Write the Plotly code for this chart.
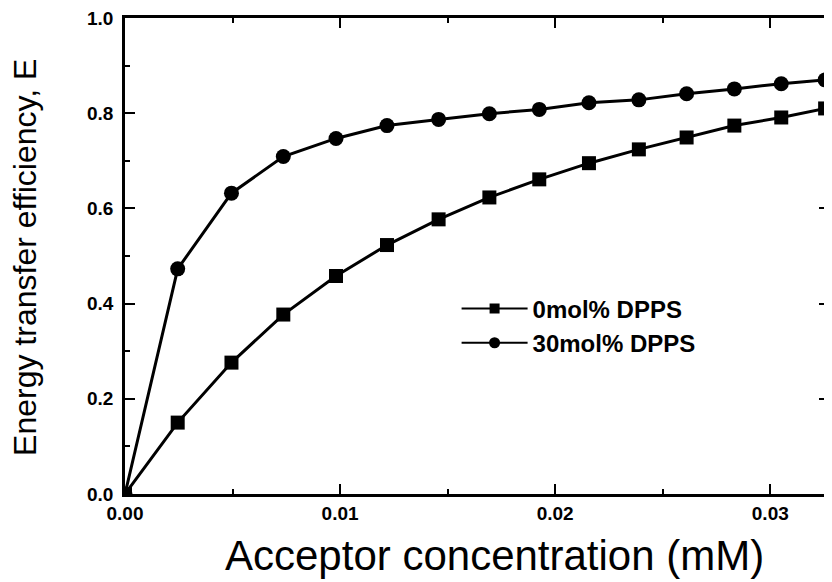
import plotly.graph_objects as go

# Data
conc_mM = [0, 0.00245, 0.00495, 0.00736, 0.00981, 0.01218, 0.01458, 0.01694,
           0.01926, 0.02157, 0.02389, 0.02611, 0.02833, 0.03051, 0.03255]
E_0mol = [0, 0.150, 0.276, 0.377, 0.458, 0.523, 0.577, 0.623,
          0.661, 0.695, 0.724, 0.749, 0.774, 0.791, 0.810]
E_30mol = [0, 0.473, 0.632, 0.709, 0.747, 0.774, 0.787, 0.799,
           0.808, 0.822, 0.828, 0.841, 0.851, 0.862, 0.870]
series_names = ["0mol% DPPS", "30mol% DPPS"]
x_ticks = [0.0, 0.01, 0.02, 0.03]
x_ticklabels = ["0.00", "0.01", "0.02", "0.03"]
y_ticks = [0.0, 0.2, 0.4, 0.6, 0.8, 1.0]
y_ticklabels = ["0.0", "0.2", "0.4", "0.6", "0.8", "1.0"]
x_title = "Acceptor concentration (mM)"
y_title = "Energy transfer efficiency, E"

FONT = "Liberation Sans, Arial, Helvetica, sans-serif"

fig = go.Figure()
fig.add_trace(go.Scatter(x=conc_mM, y=E_0mol, mode="lines+markers",
                         line=dict(color="black", width=3),
                         marker=dict(symbol="square", size=14, color="black"),
                         showlegend=False))
fig.add_trace(go.Scatter(x=conc_mM, y=E_30mol, mode="lines+markers",
                         line=dict(color="black", width=3),
                         marker=dict(symbol="circle", size=15, color="black"),
                         showlegend=False))
# legend entries (smaller symbols as in the reference)
fig.add_trace(go.Scatter(x=[None], y=[None], mode="lines+markers", name=series_names[0],
                         line=dict(color="black", width=2),
                         marker=dict(symbol="square", size=10, color="black")))
fig.add_trace(go.Scatter(x=[None], y=[None], mode="lines+markers", name=series_names[1],
                         line=dict(color="black", width=2),
                         marker=dict(symbol="circle", size=11, color="black")))

axis_common = dict(showline=True, linecolor="black", linewidth=2.5, mirror="allticks",
                   ticks="inside", ticklen=10, tickwidth=2, tickcolor="black",
                   showgrid=False, zeroline=False, ticklabeloverflow="allow",
                   tickfont=dict(family=FONT, size=19, color="black", weight="bold"))

fig.update_xaxes(range=[0, 0.03273], tickvals=x_ticks, ticktext=x_ticklabels,
                 minor=dict(dtick=0.005, tick0=0, ticks="inside", ticklen=5,
                            tickwidth=2, tickcolor="black"),
                 ticklabelstandoff=0,
                 **axis_common)
fig.update_yaxes(range=[0, 1.0], tickvals=y_ticks, ticktext=y_ticklabels,
                 minor=dict(dtick=0.1, tick0=0, ticks="inside", ticklen=5,
                            tickwidth=2, tickcolor="black"),
                 ticklabelstandoff=5,
                 **axis_common)

fig.add_annotation(text=x_title, xref="paper", yref="paper",
                   x=(496 - 125) / 707, y=(494 - 556) / 477,
                   xanchor="center", yanchor="middle", showarrow=False,
                   font=dict(family=FONT, size=42, color="black"))
fig.add_annotation(text=y_title, xref="paper", yref="paper", textangle=-90,
                   x=(25 - 125) / 707, y=(494 - 257) / 477,
                   xanchor="center", yanchor="middle", showarrow=False,
                   font=dict(family=FONT, size=32, color="black"))

# The page body has an 8px margin; the figure is sized so the plot lands in place.
fig.update_layout(
    width=824, height=574,
    margin=dict(l=117, r=0, t=9, b=88),
    plot_bgcolor="white", paper_bgcolor="white",
    legend=dict(x=(458 - 125) / 707, y=(494 - 286) / 477, xanchor="left", yanchor="top",
                bgcolor="rgba(0,0,0,0)", itemwidth=66,
                font=dict(family=FONT, size=24, color="black", weight="bold")),
)

fig.write_html("out.html")
